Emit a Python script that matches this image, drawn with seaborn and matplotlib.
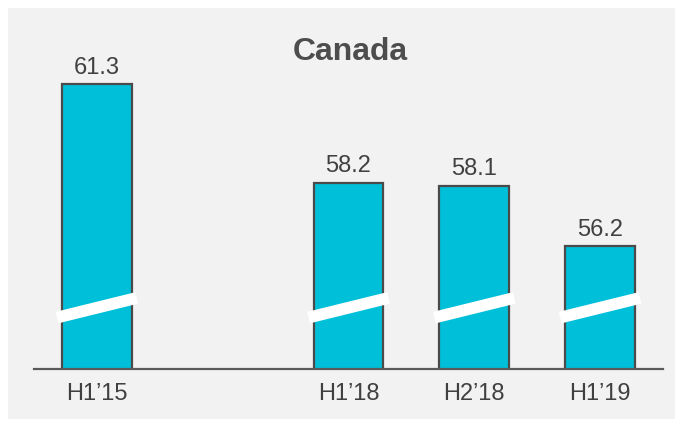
import matplotlib
matplotlib.use("Agg")
import matplotlib.pyplot as plt
import seaborn as sns
import pandas as pd
from matplotlib.patches import Rectangle

# ---- data ----
categories = ["H1\u201915", "H1\u201918", "H2\u201918", "H1\u201919"]
values = [61.3, 58.2, 58.1, 56.2]
slot_order = ["H1\u201915", " ", "H1\u201918", "H2\u201918", "H1\u201919"]
title = "Canada"

# ---- style ----
sns.set_theme(style="white")
plt.rcParams["font.family"] = ["Liberation Sans", "DejaVu Sans"]

BAR = "#00c0d9"
EDGE = "#4a4a4a"
TXT = "#404040"
PANEL = "#f2f2f2"

fig = plt.figure(figsize=(6.77, 4.25), dpi=100)
fig.patch.set_facecolor("white")
fig.patches.append(Rectangle((8 / 677, 6 / 425), 667 / 677, 411 / 425,
                             transform=fig.transFigure, facecolor=PANEL,
                             edgecolor="none", zorder=-10))

ax = fig.add_axes([34 / 677, 56 / 425, 629 / 677, 339 / 425])
ax.set_facecolor("none")

df = pd.DataFrame({"period": categories, "value": values})
sns.barplot(data=df, x="period", y="value", order=slot_order, color=BAR,
            saturation=1, width=0.555, edgecolor=EDGE, linewidth=1.6, ax=ax)

y_base = 52.33
ax.set_ylim(y_base, y_base + 339 / 31.74)
ax.set_xlim(-0.5, 4.5)

# value labels
for cont in ax.containers:
    ax.bar_label(cont, labels=[f"{v:.1f}" for v in values], padding=4,
                 fontsize=17, color=TXT)

# axis-break marks on each bar
for p in ax.patches:
    if p.get_height() != p.get_height() or p.get_height() == 0:
        continue
    x0 = p.get_x() - 0.04
    x1 = p.get_x() + p.get_width() + 0.04
    ax.plot([x0, x1], [53.95, 54.57], color="white", lw=8.5,
            solid_capstyle="butt", zorder=5, clip_on=False)

# axes styling
for s in ["top", "right", "left"]:
    ax.spines[s].set_visible(False)
ax.spines["bottom"].set_color("#5a5a5a")
ax.spines["bottom"].set_linewidth(1.6)
ax.set_yticks([])
ax.set_xlabel("")
ax.set_ylabel("")
ax.tick_params(axis="x", length=0, pad=10, labelsize=17, labelcolor=TXT)

fig.text(350 / 677, 1 - 52 / 425, title, ha="center", va="center",
         fontsize=23, fontweight="bold", color="#4d4d4d")

fig.savefig("out.png", dpi=100)
